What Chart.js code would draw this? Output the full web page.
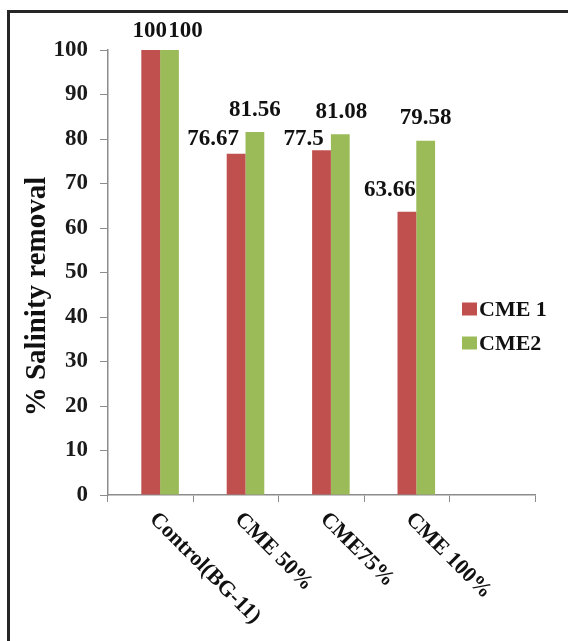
<!DOCTYPE html>
<html>
<head>
<meta charset="utf-8">
<script src="https://cdn.jsdelivr.net/npm/chart.js@4.4.0/dist/chart.umd.min.js"></script>
<style>
  html, body { margin: 0; padding: 0; background: #fff; }
  #wrap { position: relative; width: 568px; height: 641px; overflow: hidden; }
  #wrap canvas { position: absolute; left: 0; top: 0; }
  /* only left + top edge of the frame are visible in the original */
  #frame { position: absolute; left: 7px; top: 10px; width: 700px; height: 800px;
           border-left: 3px solid #262626; border-top: 3px solid #262626; pointer-events: none; }
</style>
</head>
<body>
<div id="wrap">
  <canvas id="salinityChart" width="568" height="641"></canvas>
  <div id="frame"></div>
</div>
<script>
// --- datos ---
const categories = ['Control(BG-11)', 'CME 50%', 'CME75%', 'CME 100%', ''];
const cme1 = [100, 76.67, 77.5, 63.66, null];
const cme2 = [100, 81.56, 81.08, 79.58, null];
const yTicks = [0, 10, 20, 30, 40, 50, 60, 70, 80, 90, 100];
const yTitle = '% Salinity removal';

// label nudges (dx, dy from bar top) - the originals were dragged by hand
const nudge1 = [[-1, -19], [-23, -15], [-18, -11], [-17, -22]];
const nudge2 = [[16, -19], [0, -22], [1, -22], [0, -23]];

const RED = '#C0504D';
const GREEN = '#9BBB59';
const AXIS = '#8c8c8c';
const SERIF = '"Liberation Serif", "Times New Roman", serif';

// everything Chart.js doesn't do the way Excel did
const extras = {
    id: 'extras',
    afterDraw(chart) {
        const ctx = chart.ctx;
        const area = chart.chartArea;
        const x = chart.scales.x;
        ctx.save();
        ctx.fillStyle = '#111';

        // y title
        ctx.save();
        ctx.font = 'bold 29px ' + SERIF;
        ctx.translate(area.left - 70, (area.top + area.bottom) / 2 + 24);
        ctx.rotate(-Math.PI / 2);
        ctx.textAlign = 'center';
        ctx.textBaseline = 'middle';
        ctx.fillText(yTitle, 0, 0);
        ctx.restore();

        // slanted category labels
        ctx.font = 'bold 22px ' + SERIF;
        categories.forEach((c, i) => {
            if (!c) return;
            ctx.save();
            ctx.translate(x.getPixelForValue(i) + 2, area.bottom + 21);
            ctx.rotate(Math.PI / 4);
            ctx.textAlign = 'left';
            ctx.textBaseline = 'middle';
            ctx.fillText(c, 0, 0);
            ctx.restore();
        });

        // value labels
        ctx.font = 'bold 23px ' + SERIF;
        ctx.textAlign = 'center';
        ctx.textBaseline = 'middle';
        [[1, cme1, nudge1], [2, cme2, nudge2]].forEach(([di, vals, nudge]) => {
            const meta = chart.getDatasetMeta(di);
            vals.forEach((v, i) => {
                if (v === null) return;
                const bar = meta.data[i];
                const [dx, dy] = nudge[i];
                ctx.fillText(String(v), bar.x + dx, bar.y + dy);
            });
        });

        // legend inside the empty last category
        ctx.textAlign = 'left';
        ctx.font = 'bold 22px ' + SERIF;
        [1, 2].forEach((di, k) => {
            const ds = chart.data.datasets[di];
            const lx = area.right - 73;
            const ly = area.top + 259 + k * 34;
            ctx.fillStyle = ds.backgroundColor;
            ctx.fillRect(lx, ly - 6.5, 15, 13);
            ctx.fillStyle = '#111';
            ctx.fillText(ds.label, lx + 17, ly + 1);
        });
        ctx.restore();
    }
};

new Chart(document.getElementById('salinityChart'), {
    type: 'bar',
    data: {
        labels: categories,
        datasets: [{
            // empty first series: pushes the pair off-centre like in the original
            label: '',
            data: categories.map(() => null),
            backgroundColor: 'rgba(0,0,0,0)'
        }, {
            label: 'CME 1',
            data: cme1,
            backgroundColor: RED
        }, {
            label: 'CME2',
            data: cme2,
            backgroundColor: GREEN
        }]
    },
    options: {
        responsive: false,
        devicePixelRatio: 1,
        animation: false,
        layout: { padding: { left: 18, right: 33, top: 50, bottom: 0 } },
        datasets: { bar: { categoryPercentage: 0.66, barPercentage: 1 } },
        plugins: {
            legend: { display: false },
            tooltip: { enabled: false }
        },
        scales: {
            x: {
                ticks: { display: false },
                grid: { drawOnChartArea: false, drawTicks: true, tickLength: 7, color: AXIS, offset: true },
                border: { color: AXIS, width: 1.5 },
                afterFit: (s) => { s.height = 146; }
            },
            y: {
                min: 0,
                max: 100,
                afterBuildTicks: (s) => { s.ticks = yTicks.map(v => ({ value: v })); },
                ticks: {
                    padding: 12,
                    color: '#1a1a1a',
                    font: { family: SERIF, size: 23, weight: 'bold' }
                },
                grid: { drawOnChartArea: false, drawTicks: true, tickLength: 8, color: AXIS },
                border: { color: AXIS, width: 1.5 },
                afterFit: (s) => { s.width = 90; }
            }
        }
    },
    plugins: [extras]
});
</script>
</body>
</html>
